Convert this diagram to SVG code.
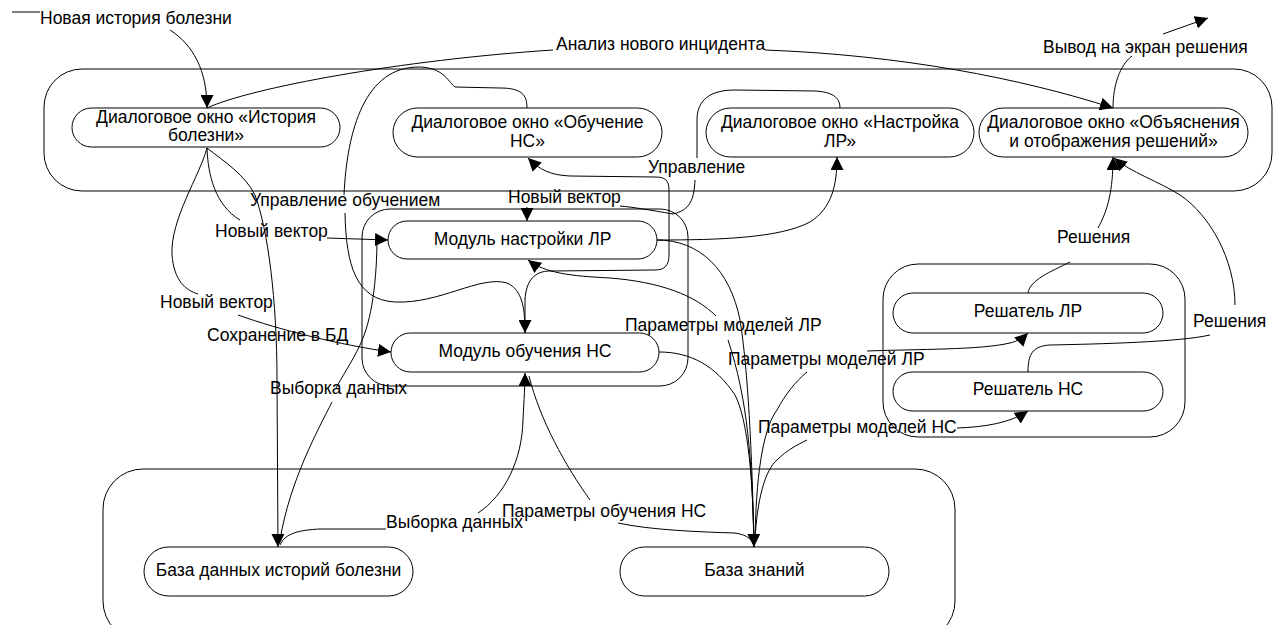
<svg xmlns="http://www.w3.org/2000/svg" width="1282" height="625" viewBox="0 0 1282 625">
<style>
text{font-family:"Liberation Sans",Arial,sans-serif;font-size:17.5px;fill:#000}
.n{text-anchor:middle}
.box{fill:none;stroke:#000;stroke-width:1}
.c{fill:none;stroke:#000;stroke-width:1}
</style>
<defs>
<marker id="ah" viewBox="0 0 13 13" markerWidth="13" markerHeight="13" refX="13" refY="6.5" orient="auto" markerUnits="userSpaceOnUse"><path d="M0,0 L13,6.5 L0,13 z" fill="#000"/></marker>
</defs>
<rect fill="#fff" width="1282" height="625"/>
<g id="containers">
<rect id="c-ui" class="box" x="44" y="69" width="1228" height="122" rx="38"/>
<rect id="c-mod" class="box" x="362" y="209" width="326" height="177" rx="28"/>
<rect id="c-solv" class="box" x="883" y="264" width="302" height="173" rx="35"/>
<rect id="c-db" class="box" x="103" y="469" width="852" height="172" rx="40"/>
</g>
<g id="connectors">
<path class="c" d="M12,12 L40,12"/>
<path class="c" d="M170,30 C193,45 207,70 207,108" marker-end="url(#ah)"/>
<path class="c" d="M207,108 C250,88 400,60 553,50 M765,50 C900,55 1020,78 1113,108" marker-end="url(#ah)"/>
<path class="c" d="M1113,108 C1113,85 1120,65 1132,56 M1163,34 L1208,18" marker-end="url(#ah)"/>
<path class="c" d="M207,148 C200,175 170,220 172,255 C174,280 185,290 198,294 M238,315 C280,330 340,345 391,352" marker-end="url(#ah)"/>
<path class="c" d="M207,148 C208,175 215,205 240,220 M327,238 L388,240" marker-end="url(#ah)"/>
<path class="c" d="M207,148 C225,162 245,175 255,195 C268,230 277,300 277,380 L278,547" marker-end="url(#ah)"/>
<path class="c" d="M527,108 C527,95 522,88 500,88 L455,87 C447,80 443,68 420,67 C365,66 347,130 344,195 M345,213 C346,265 356,300 395,302 C440,304 480,275 507,283 C523,290 525,310 525,333" marker-end="url(#ah)"/>
<path class="c" d="M377,236 C377,280 372,320 360,345 C352,362 340,380 336,388 M332,402 C318,430 290,480 280,540"/>
<path class="c" d="M280,545 C285,533 300,530 320,529 L386,529"/>
<path class="c" d="M478,513 C505,495 522,460 523,420 C524,400 525,385 525,373" marker-end="url(#ah)"/>
<path class="c" d="M529,376 C540,420 565,465 590,500 M618,523 C650,530 700,532 735,533 C748,535 753,540 754,547"/>
<path class="c" d="M657,240 C700,240 730,270 740,320 C748,370 752,450 754,547"/>
<path class="c" d="M754,547 C752,460 748,400 728,340 M716,316 C695,295 660,282 610,278 C570,276 545,273 528,260" marker-end="url(#ah)"/>
<path class="c" d="M659,352 C690,352 715,365 735,395 C748,420 753,480 754,547" marker-end="url(#ah)"/>
<path class="c" d="M755,540 C756,480 762,430 777,410 C785,395 795,382 807,372 M867,351 C920,349 980,350 1010,343 C1018,341 1024,337 1028,333" marker-end="url(#ah)"/>
<path class="c" d="M755,540 C757,500 765,470 777,460 C787,450 797,445 807,440 M957,428 C985,427 1010,423 1028,411" marker-end="url(#ah)"/>
<path class="c" d="M657,240 C720,240 780,238 810,222 C832,208 837,185 837,157" marker-end="url(#ah)"/>
<path class="c" d="M840,108 C840,97 832,92 815,91 L735,90 C710,90 697,100 697,120 L697,158 M695,180 C694,200 690,210 673,214 C650,210 632,207 620,206 M527,207 L527,221" marker-end="url(#ah)"/>
<path class="c" d="M525,333 L525,300 C526,280 535,271 550,271 L655,270 C665,270 669,265 669,255 L669,190 C669,180 665,177 655,177 L570,176 C550,175 540,170 528,158" marker-end="url(#ah)"/>
<path class="c" d="M1028,293 C1030,280 1050,272 1070,262 M1098,228 C1108,210 1113,190 1113,157" marker-end="url(#ah)"/>
<path class="c" d="M1028,372 C1028,355 1032,346 1050,345 C1100,344 1180,342 1210,335 M1235,305 C1235,260 1210,215 1180,195 C1160,182 1130,172 1114,158" marker-end="url(#ah)"/>
</g>
<g id="n-hist"><rect class="box" x="72" y="108" width="268" height="39" rx="19.5"/><text class="n" x="206" y="123">Диалоговое окно «История</text><text class="n" x="206" y="141">болезни»</text></g>
<g id="n-trainui"><rect class="box" x="393" y="108" width="269" height="49" rx="24.5"/><text class="n" x="527.5" y="128">Диалоговое окно «Обучение</text><text class="n" x="527.5" y="147">НС»</text></g>
<g id="n-tuneui"><rect class="box" x="706" y="108" width="268" height="49" rx="24.5"/><text class="n" x="840" y="128">Диалоговое окно «Настройка</text><text class="n" x="840" y="147">ЛР»</text></g>
<g id="n-explain"><rect class="box" x="979" y="108" width="269" height="49" rx="24.5"/><text class="n" x="1113.5" y="128">Диалоговое окно «Объяснения</text><text class="n" x="1113.5" y="147">и отображения решений»</text></g>
<g id="n-tunemod"><rect class="box" x="388" y="221" width="269" height="38" rx="19"/><text class="n" x="522.5" y="245">Модуль настройки ЛР</text></g>
<g id="n-trainmod"><rect class="box" x="391" y="333" width="268" height="39" rx="19.5"/><text class="n" x="525" y="357">Модуль обучения НС</text></g>
<g id="n-solvlr"><rect class="box" x="893" y="293" width="270" height="40" rx="20"/><text class="n" x="1028" y="317">Решатель ЛР</text></g>
<g id="n-solvnn"><rect class="box" x="893" y="372" width="270" height="39" rx="19.5"/><text class="n" x="1028" y="395">Решатель НС</text></g>
<g id="n-db"><rect class="box" x="144" y="547" width="269" height="49" rx="24.5"/><text class="n" x="278.5" y="576">База данных историй болезни</text></g>
<g id="n-kb"><rect class="box" x="620" y="547" width="269" height="49" rx="24.5"/><text class="n" x="754.5" y="576">База знаний</text></g>
<g id="labels">
<text x="40" y="24">Новая история болезни</text>
<text x="556" y="50">Анализ нового инцидента</text>
<text x="1043" y="53">Вывод на экран решения</text>
<text x="250" y="206">Управление обучением</text>
<text x="215" y="237">Новый вектор</text>
<text x="160" y="308">Новый вектор</text>
<text x="207" y="341">Сохранение в БД</text>
<text x="270" y="394">Выборка данных</text>
<text x="386" y="528">Выборка данных</text>
<text x="502" y="517">Параметры обучения НС</text>
<text x="508" y="203">Новый вектор</text>
<text x="648" y="173">Управление</text>
<text x="625" y="331">Параметры моделей ЛР</text>
<text x="728" y="365">Параметры моделей ЛР</text>
<text x="758" y="433">Параметры моделей НС</text>
<text x="1057" y="243">Решения</text>
<text x="1193" y="327">Решения</text>
</g>
</svg>
